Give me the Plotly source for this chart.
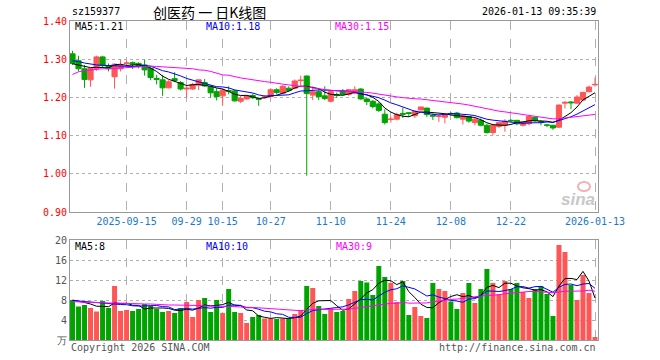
import plotly.graph_objects as go
import pandas as pd

# ---------------- data ----------------
holidays = ["2025-10-01", "2025-10-02", "2025-10-03", "2025-10-06", "2025-10-07",
            "2025-10-08", "2026-01-01", "2026-01-02"]
dates = [d.strftime("%Y-%m-%d") for d in pd.bdate_range("2025-09-02", "2026-01-13")
         if d.strftime("%Y-%m-%d") not in holidays]

opens = [1.314, 1.296, 1.275, 1.246, 1.276, 1.306, 1.283, 1.254, 1.275, 1.289,
         1.291, 1.289, 1.285, 1.276, 1.250, 1.246, 1.225, 1.249, 1.239, 1.222,
         1.222, 1.232, 1.239, 1.228, 1.215, 1.204, 1.218, 1.217, 1.190, 1.196,
         1.205, 1.197, 1.199, 1.202, 1.220, 1.211, 1.224, 1.224, 1.244, 1.256,
         1.206, 1.215, 1.204, 1.190, 1.207, 1.217, 1.208, 1.211, 1.222, 1.196,
         1.190, 1.183, 1.156, 1.142, 1.143, 1.158, 1.160, 1.152, 1.167, 1.172,
         1.153, 1.150, 1.148, 1.158, 1.159, 1.143, 1.150, 1.134, 1.140, 1.127,
         1.108, 1.124, 1.127, 1.140, 1.140, 1.127, 1.131, 1.148, 1.137, 1.128,
         1.127, 1.122, 1.185, 1.188, 1.185, 1.193, 1.215, 1.233]
highs = [1.322, 1.309, 1.285, 1.276, 1.309, 1.309, 1.289, 1.289, 1.299, 1.296,
         1.294, 1.292, 1.299, 1.280, 1.259, 1.259, 1.245, 1.266, 1.243, 1.234,
         1.238, 1.246, 1.248, 1.232, 1.225, 1.224, 1.229, 1.220, 1.204, 1.206,
         1.210, 1.199, 1.206, 1.224, 1.224, 1.232, 1.229, 1.247, 1.257, 1.257,
         1.229, 1.222, 1.229, 1.218, 1.213, 1.222, 1.222, 1.229, 1.224, 1.199,
         1.193, 1.187, 1.169, 1.150, 1.160, 1.173, 1.162, 1.166, 1.175, 1.173,
         1.158, 1.155, 1.158, 1.162, 1.162, 1.154, 1.151, 1.146, 1.145, 1.131,
         1.131, 1.136, 1.143, 1.143, 1.141, 1.138, 1.152, 1.150, 1.140, 1.131,
         1.128, 1.181, 1.190, 1.190, 1.206, 1.215, 1.231, 1.252]
lows = [1.285, 1.268, 1.225, 1.228, 1.270, 1.280, 1.268, 1.223, 1.268, 1.283,
        1.274, 1.276, 1.257, 1.245, 1.234, 1.204, 1.224, 1.240, 1.218, 1.199,
        1.220, 1.219, 1.228, 1.199, 1.192, 1.178, 1.208, 1.189, 1.185, 1.194,
        1.196, 1.178, 1.196, 1.200, 1.208, 1.209, 1.215, 1.222, 1.232, 0.995,
        1.193, 1.193, 1.193, 1.187, 1.199, 1.206, 1.204, 1.208, 1.194, 1.180,
        1.171, 1.162, 1.129, 1.134, 1.140, 1.146, 1.149, 1.146, 1.167, 1.149,
        1.141, 1.136, 1.132, 1.154, 1.145, 1.129, 1.134, 1.127, 1.124, 1.105,
        1.101, 1.120, 1.110, 1.134, 1.127, 1.124, 1.127, 1.136, 1.127, 1.122,
        1.115, 1.120, 1.171, 1.169, 1.183, 1.190, 1.213, 1.228]
closes = [1.289, 1.275, 1.247, 1.276, 1.306, 1.283, 1.275, 1.287, 1.283, 1.290,
          1.287, 1.282, 1.272, 1.252, 1.247, 1.225, 1.241, 1.244, 1.222, 1.224,
          1.234, 1.246, 1.230, 1.212, 1.202, 1.219, 1.216, 1.191, 1.197, 1.204,
          1.199, 1.195, 1.201, 1.220, 1.213, 1.229, 1.218, 1.243, 1.245, 1.210,
          1.215, 1.202, 1.197, 1.215, 1.205, 1.208, 1.220, 1.220, 1.196, 1.189,
          1.176, 1.166, 1.134, 1.143, 1.155, 1.156, 1.158, 1.164, 1.175, 1.155,
          1.151, 1.151, 1.155, 1.157, 1.147, 1.152, 1.138, 1.143, 1.127, 1.108,
          1.127, 1.134, 1.138, 1.139, 1.131, 1.136, 1.150, 1.139, 1.136, 1.127,
          1.120, 1.180, 1.187, 1.186, 1.201, 1.213, 1.227, 1.234]
volumes = [8.0, 6.7, 7.0, 6.4, 5.7, 7.8, 6.4, 10.8, 5.8, 6.0,
           5.8, 6.2, 7.2, 6.8, 6.2, 5.6, 5.8, 5.4, 6.4, 7.6,
           4.6, 8.0, 8.4, 5.6, 8.0, 5.4, 10.2, 5.6, 5.4, 3.4,
           4.6, 5.0, 4.3, 4.3, 4.2, 4.3, 4.3, 5.2, 6.0, 10.8,
           10.4, 6.8, 5.2, 6.3, 5.6, 5.8, 8.2, 9.8, 11.8, 11.5,
           9.0, 14.8, 12.6, 11.4, 7.6, 11.8, 5.0, 6.6, 4.8, 4.4,
           11.4, 10.2, 9.8, 7.7, 6.2, 9.4, 11.4, 7.4, 10.2, 14.2,
           11.4, 9.2, 11.8, 10.2, 11.4, 9.6, 8.4, 10.2, 10.8, 9.2,
           4.8, 19.0, 17.6, 11.0, 8.0, 13.0, 9.4, 0.6]

ma5_head = [1.288, 1.285, 1.281, 1.278]
ma10_head = [1.296, 1.294, 1.290, 1.287, 1.285, 1.284, 1.283, 1.282, 1.282]
ma30_head = [1.260, 1.267, 1.270, 1.272, 1.274, 1.275, 1.275, 1.276, 1.278, 1.279,
             1.280, 1.281, 1.282, 1.282, 1.281, 1.280, 1.280, 1.279, 1.278, 1.276,
             1.275, 1.272, 1.271, 1.268, 1.263, 1.259, 1.258, 1.254, 1.251]
vma5_head = [8.0, 7.8, 7.5, 7.2]
vma10_head = [7.9, 7.8, 7.6, 7.5, 7.4, 7.3, 7.2, 7.2, 7.1]
vma30_head = [7.7, 7.6, 7.6, 7.5, 7.5, 7.4, 7.4, 7.4, 7.3, 7.3,
              7.3, 7.2, 7.2, 7.2, 7.1, 7.1, 7.0, 7.0, 7.0, 6.9,
              6.9, 6.9, 6.8, 6.8, 6.8, 6.7, 6.7, 6.7, 6.6]

tick_dates = ["2025-09-15", "2025-09-29", "2025-10-15", "2025-10-27", "2025-11-10",
              "2025-11-24", "2025-12-08", "2025-12-22", "2026-01-13"]
tick_labels = ["2025-09-15", "09-29", "10-15", "10-27", "11-10",
               "11-24", "12-08", "12-22", "2026-01-13"]
price_ticks = [0.90, 1.00, 1.10, 1.20, 1.30, 1.40]
vol_ticks = [0, 4, 8, 12, 16, 20]
vol_tick_labels = ["万", "4", "8", "12", "16", "20"]

price_legend = ["MA5:1.21", "MA10:1.18", "MA30:1.15"]
vol_legend = ["MA5:8", "MA10:10", "MA30:9"]


def ma(values, n, head):
    s = pd.Series(values).rolling(n).mean().tolist()
    return list(head) + s[len(head):]


RED = "#ff5555"
GREEN = "#00a400"
MONO = "DejaVu Sans Mono"

fig = go.Figure()
fig.add_trace(go.Candlestick(
    x=dates, open=opens, high=highs, low=lows, close=closes,
    increasing=dict(line=dict(color=RED, width=1), fillcolor=RED),
    decreasing=dict(line=dict(color=GREEN, width=1), fillcolor=GREEN),
    whiskerwidth=0, xaxis="x", yaxis="y", showlegend=False, hoverinfo="skip"))
for vals, n, head, col in [(closes, 5, ma5_head, "black"), (closes, 10, ma10_head, "#0000ff"),
                           (closes, 30, ma30_head, "#ff00ff")]:
    fig.add_trace(go.Scatter(x=dates, y=ma(vals, n, head), mode="lines",
                             line=dict(color=col, width=1), xaxis="x", yaxis="y",
                             showlegend=False, hoverinfo="skip"))

vol_colors = [RED if c >= o else GREEN for o, c in zip(opens, closes)]
fig.add_trace(go.Bar(x=dates, y=volumes, marker=dict(color=vol_colors, line=dict(width=0)),
                     width=0.83, xaxis="x2", yaxis="y2", showlegend=False, hoverinfo="skip"))
for vals, n, head, col in [(volumes, 5, vma5_head, "black"), (volumes, 10, vma10_head, "#0000ff"),
                           (volumes, 30, vma30_head, "#ff00ff")]:
    fig.add_trace(go.Scatter(x=dates, y=ma(vals, n, head), mode="lines",
                             line=dict(color=col, width=1), xaxis="x2", yaxis="y2",
                             showlegend=False, hoverinfo="skip"))

L, R, T, B = 70, 62, 21, 20
W, H = 660, 360
PW, PH = W - L - R, H - T - B


def xp(px):
    return (px - L) / PW


def yp(py):
    return (H - B - py) / PH


grid = "#b0b0b0"
xcommon = dict(type="category", range=[-0.42, 87.5], tickmode="array", tickvals=tick_dates,
               showgrid=True, gridcolor=grid, griddash="dash", gridwidth=1,
               showline=True, mirror=True, linecolor="#999", linewidth=1,
               ticks="", zeroline=False, automargin=False, rangeslider=dict(visible=False))
ycommon = dict(showgrid=True, gridcolor=grid, griddash="dot", showline=True, mirror=True,
               linecolor="#999", linewidth=1, ticks="", zeroline=False, automargin=False,
               tickmode="array")
fig.update_layout(
    width=W, height=H, margin=dict(l=L, r=R, t=T, b=B, autoexpand=False),
    paper_bgcolor="white", plot_bgcolor="white",
    font=dict(family=MONO, size=10, color="#333"),
    xaxis=dict(domain=[0, 1], anchor="y", ticktext=tick_labels,
               tickfont=dict(color="#1a7ac8", size=10, family=MONO), **xcommon),
    xaxis2=dict(domain=[0, 1], anchor="y2", matches="x", showticklabels=False, **xcommon),
    yaxis=dict(domain=[yp(212), 1], range=[0.90, 1.40], tickvals=price_ticks,
               ticktext=["%.2f" % v for v in price_ticks], tickfont=dict(color="#ff0000", size=10),
               **ycommon),
    yaxis2=dict(domain=[0, yp(240)], range=[0, 20], tickvals=vol_ticks,
                ticktext=vol_tick_labels, tickfont=dict(color="#555", size=10), **ycommon),
    bargap=0.17, boxgap=0.1, boxgroupgap=0.05,
)

ann = []


def text(s, px, py, color="#000", size=10, anchor="left", family=MONO):
    ann.append(dict(text=s, x=xp(px), y=yp(py), xref="paper", yref="paper", showarrow=False,
                    xanchor=anchor, yanchor="middle", font=dict(color=color, size=size, family=family)))


text("sz159377", 70, 12)
text("创医药 一 日K线图", 151, 12, size=14, family="Noto Sans CJK SC")
text("2026-01-13 09:35:39", 598, 12, anchor="right")
text(price_legend[0], 73, 27)
text(price_legend[1], 204, 27, color="#0000ff")
text(price_legend[2], 333, 27, color="#ff00ff")
text(vol_legend[0], 73, 246)
text(vol_legend[1], 204, 246, color="#0000ff")
text(vol_legend[2], 334, 246, color="#ff00ff")
text("Copyright 2026 SINA.COM", 69, 347, color="#555")
text("http://finance.sina.com.cn", 598, 347, color="#555", anchor="right")
ann.append(dict(text="<b><i>sina</i></b>", x=xp(597), y=yp(199), xref="paper", yref="paper",
                showarrow=False, xanchor="right", yanchor="middle",
                font=dict(color="#c8c8c8", size=17, family="Liberation Sans")))
fig.update_layout(annotations=ann)
# faint red "eye" of the watermark logo
fig.add_shape(type="circle", xref="paper", yref="paper",
              x0=xp(578), x1=xp(590), y0=yp(191), y1=yp(182),
              line=dict(color="#f2b0b0", width=2), fillcolor="rgba(0,0,0,0)")

fig.write_html("out.html", config={"displayModeBar": False, "staticPlot": True},
               post_script="document.body.style.margin='0';document.body.style.overflow='hidden';")
